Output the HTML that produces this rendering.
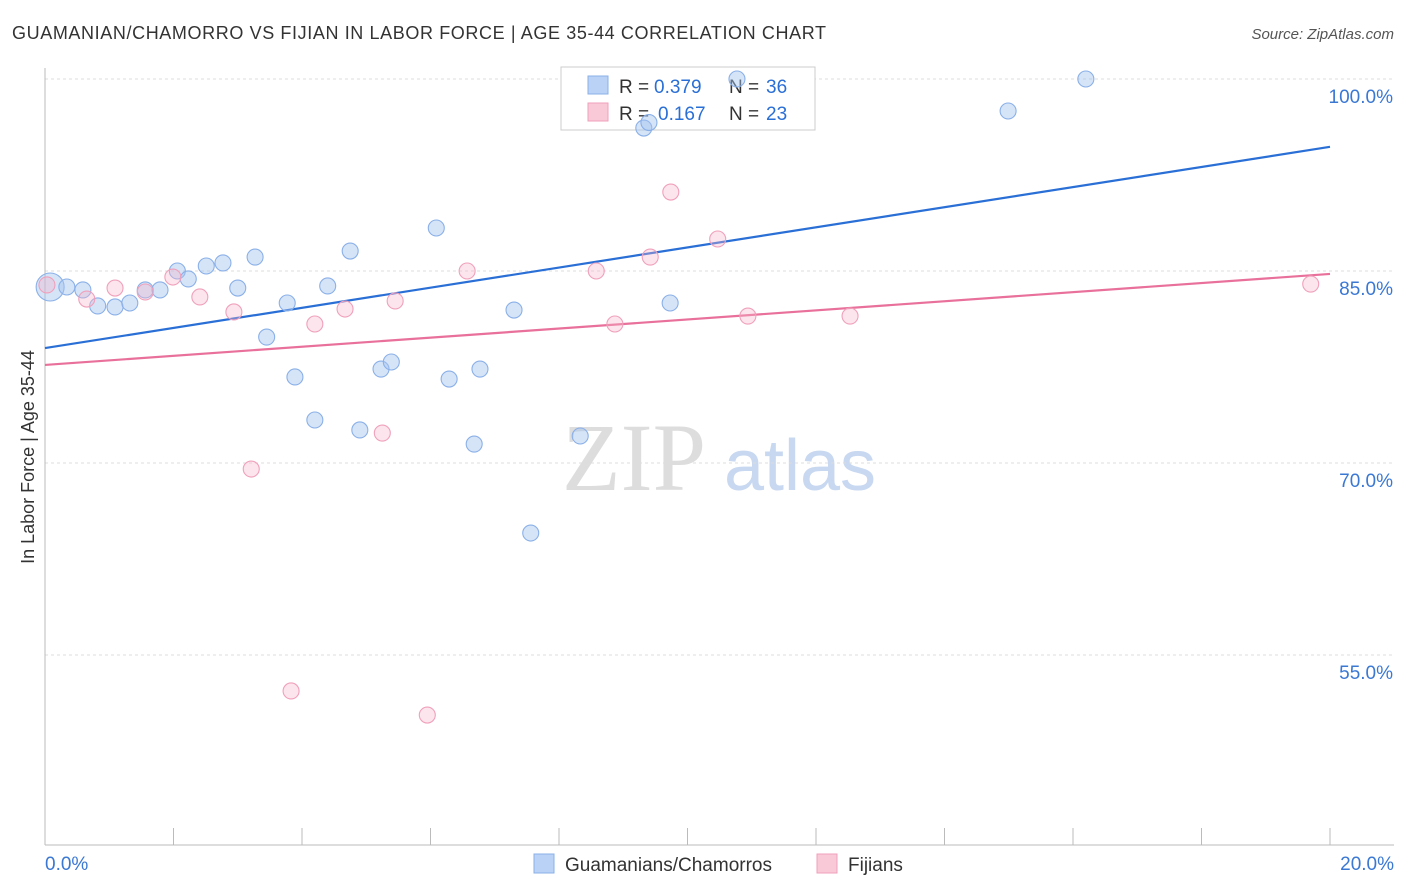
<!DOCTYPE html>
<html><head><meta charset="utf-8">
<style>
body{margin:0;background:#fff;font-family:"Liberation Sans",sans-serif;}
svg{display:block}
</style></head>
<body>
<svg id="chart" width="1406" height="892" xmlns="http://www.w3.org/2000/svg">
<text x="12" y="39" font-size="18" fill="#333" textLength="814" lengthAdjust="spacing">GUAMANIAN/CHAMORRO VS FIJIAN IN LABOR FORCE | AGE 35-44 CORRELATION CHART</text>
<text x="1394" y="39" font-size="15" fill="#555" font-style="italic" text-anchor="end">Source: ZipAtlas.com</text>
<text x="634" y="490" font-size="96" fill="#ddd" font-family="Liberation Serif,serif" text-anchor="middle">ZIP</text>
<text x="800" y="490" font-size="72" fill="#c8d8f0" text-anchor="middle">atlas</text>
<text transform="translate(34,457) rotate(-90)" font-size="18" fill="#333" text-anchor="middle">In Labor Force | Age 35-44</text>
<g id="grid"></g><g id="axes"></g>
<g>
<rect x="561" y="67" width="254" height="63" fill="#fff" stroke="#ccc"/>
<rect x="588" y="76" width="20" height="18" fill="#b9d2f5" stroke="#8ab0e8"/>
<text x="619" y="93" font-size="19" fill="#333">R = </text>
<text x="654" y="93" font-size="19" fill="#2a6fd6">0.379</text>
<text x="729" y="93" font-size="19" fill="#333">N = </text>
<text x="766" y="93" font-size="19" fill="#2a6fd6">36</text>
<rect x="588" y="103" width="20" height="18" fill="#f9c9d8" stroke="#f0a0bb"/>
<text x="619" y="120" font-size="19" fill="#333">R = </text>
<text x="658" y="120" font-size="19" fill="#2a6fd6">0.167</text>
<text x="729" y="120" font-size="19" fill="#333">N = </text>
<text x="766" y="120" font-size="19" fill="#2a6fd6">23</text>
</g>
<g id="lines"></g><g id="points"></g>
<g>
<rect x="534" y="854" width="20" height="19" fill="#b9d2f5" stroke="#8ab0e8"/>
<text x="565" y="871" font-size="19" fill="#333">Guamanians/Chamorros</text>
<rect x="817" y="854" width="20" height="19" fill="#f9c9d8" stroke="#f0a0bb"/>
<text x="848" y="871" font-size="19" fill="#333">Fijians</text>
</g>
<text x="45" y="870" font-size="19" fill="#3a78d4">0.0%</text>
<text x="1394" y="870" font-size="19" fill="#3a78d4" text-anchor="end">20.0%</text>
</svg>
<script>
const yTicks=[100,85,70,55];
const blueX=[0.08,0.34,0.59,0.82,1.09,1.32,1.56,1.79,2.06,2.23,2.51,2.77,3.00,3.27,3.45,3.77,3.89,4.20,4.40,4.75,4.90,5.23,5.39,6.09,6.29,6.68,6.77,7.30,7.56,8.33,9.32,9.73,10.77,14.99,16.20,9.4];
const blueY=[83.75,83.75,83.52,82.27,82.19,82.5,83.52,83.52,85.0,84.38,85.39,85.63,83.67,86.09,79.84,82.5,76.72,73.36,83.83,86.56,72.58,77.34,77.89,88.36,76.56,71.48,77.34,81.95,64.53,72.11,96.17,82.5,100.0,97.5,100.0,96.6];
const pinkX=[0.03,0.65,1.09,1.56,1.99,2.41,2.94,3.21,3.83,4.20,4.67,5.25,5.45,5.95,6.57,8.58,8.87,9.42,9.74,10.47,10.94,12.53,19.70];
const pinkY=[83.91,82.81,83.67,83.36,84.53,82.97,81.8,69.53,52.19,80.86,82.03,72.34,82.66,50.31,85.0,85.0,80.86,86.09,91.17,87.5,81.48,81.48,83.98];
const blueTrend=[78.98,94.7];
const pinkTrend=[77.66,84.77];
const NS="http://www.w3.org/2000/svg";
const sx=v=>45+v/20*1285;
const sy=v=>79+(100-v)*12.8;
function mk(tag,attrs,parent){const e=document.createElementNS(NS,tag);for(const k in attrs)e.setAttribute(k,attrs[k]);document.getElementById(parent).appendChild(e);return e;}
yTicks.forEach(t=>{
 const l=mk('line',{x1:45,x2:1394,y1:sy(t),y2:sy(t),stroke:'#ddd','stroke-dasharray':'3,3'},'grid');
 
 
 const tx=mk('text',{x:1393,y:sy(t)+24,'font-size':19,fill:'#3a78d4','text-anchor':'end'},'grid');
 tx.textContent=t.toFixed(1)+'%';
 
 
});
const ax=mk('line',{x1:45,x2:1394,y1:845,y2:845,stroke:'#bbb'},'axes');


const ay=mk('line',{x1:45,x2:45,y1:68,y2:845,stroke:'#bbb'},'axes');


for(let i=0;i<=10;i++){const t=mk('line',{x1:sx(i*2),x2:sx(i*2),y1:828,y2:845,stroke:'#bbb'},'axes');
 
 }
[[blueTrend,'#2a6fd6','blue-trend-line'],[pinkTrend,'#e8709a','pink-trend-line']].forEach(([tr,c,n])=>{
 const l=mk('line',{x1:sx(0),y1:sy(tr[0]),x2:sx(20),y2:sy(tr[1]),stroke:c,'stroke-width':2.2},'lines');
 
 
});
blueX.forEach((x,i)=>{const c=mk('circle',{cx:sx(x),cy:sy(blueY[i]),r:i===0?14:8,fill:'rgba(165,195,240,0.45)',stroke:'#8ab0e8','stroke-width':1.1},'points');
 
 });
pinkX.forEach((x,i)=>{const c=mk('circle',{cx:sx(x),cy:sy(pinkY[i]),r:8,fill:'rgba(247,180,200,0.35)',stroke:'#f0a0bb','stroke-width':1.1},'points');
 
 });
</script>
</body></html>
